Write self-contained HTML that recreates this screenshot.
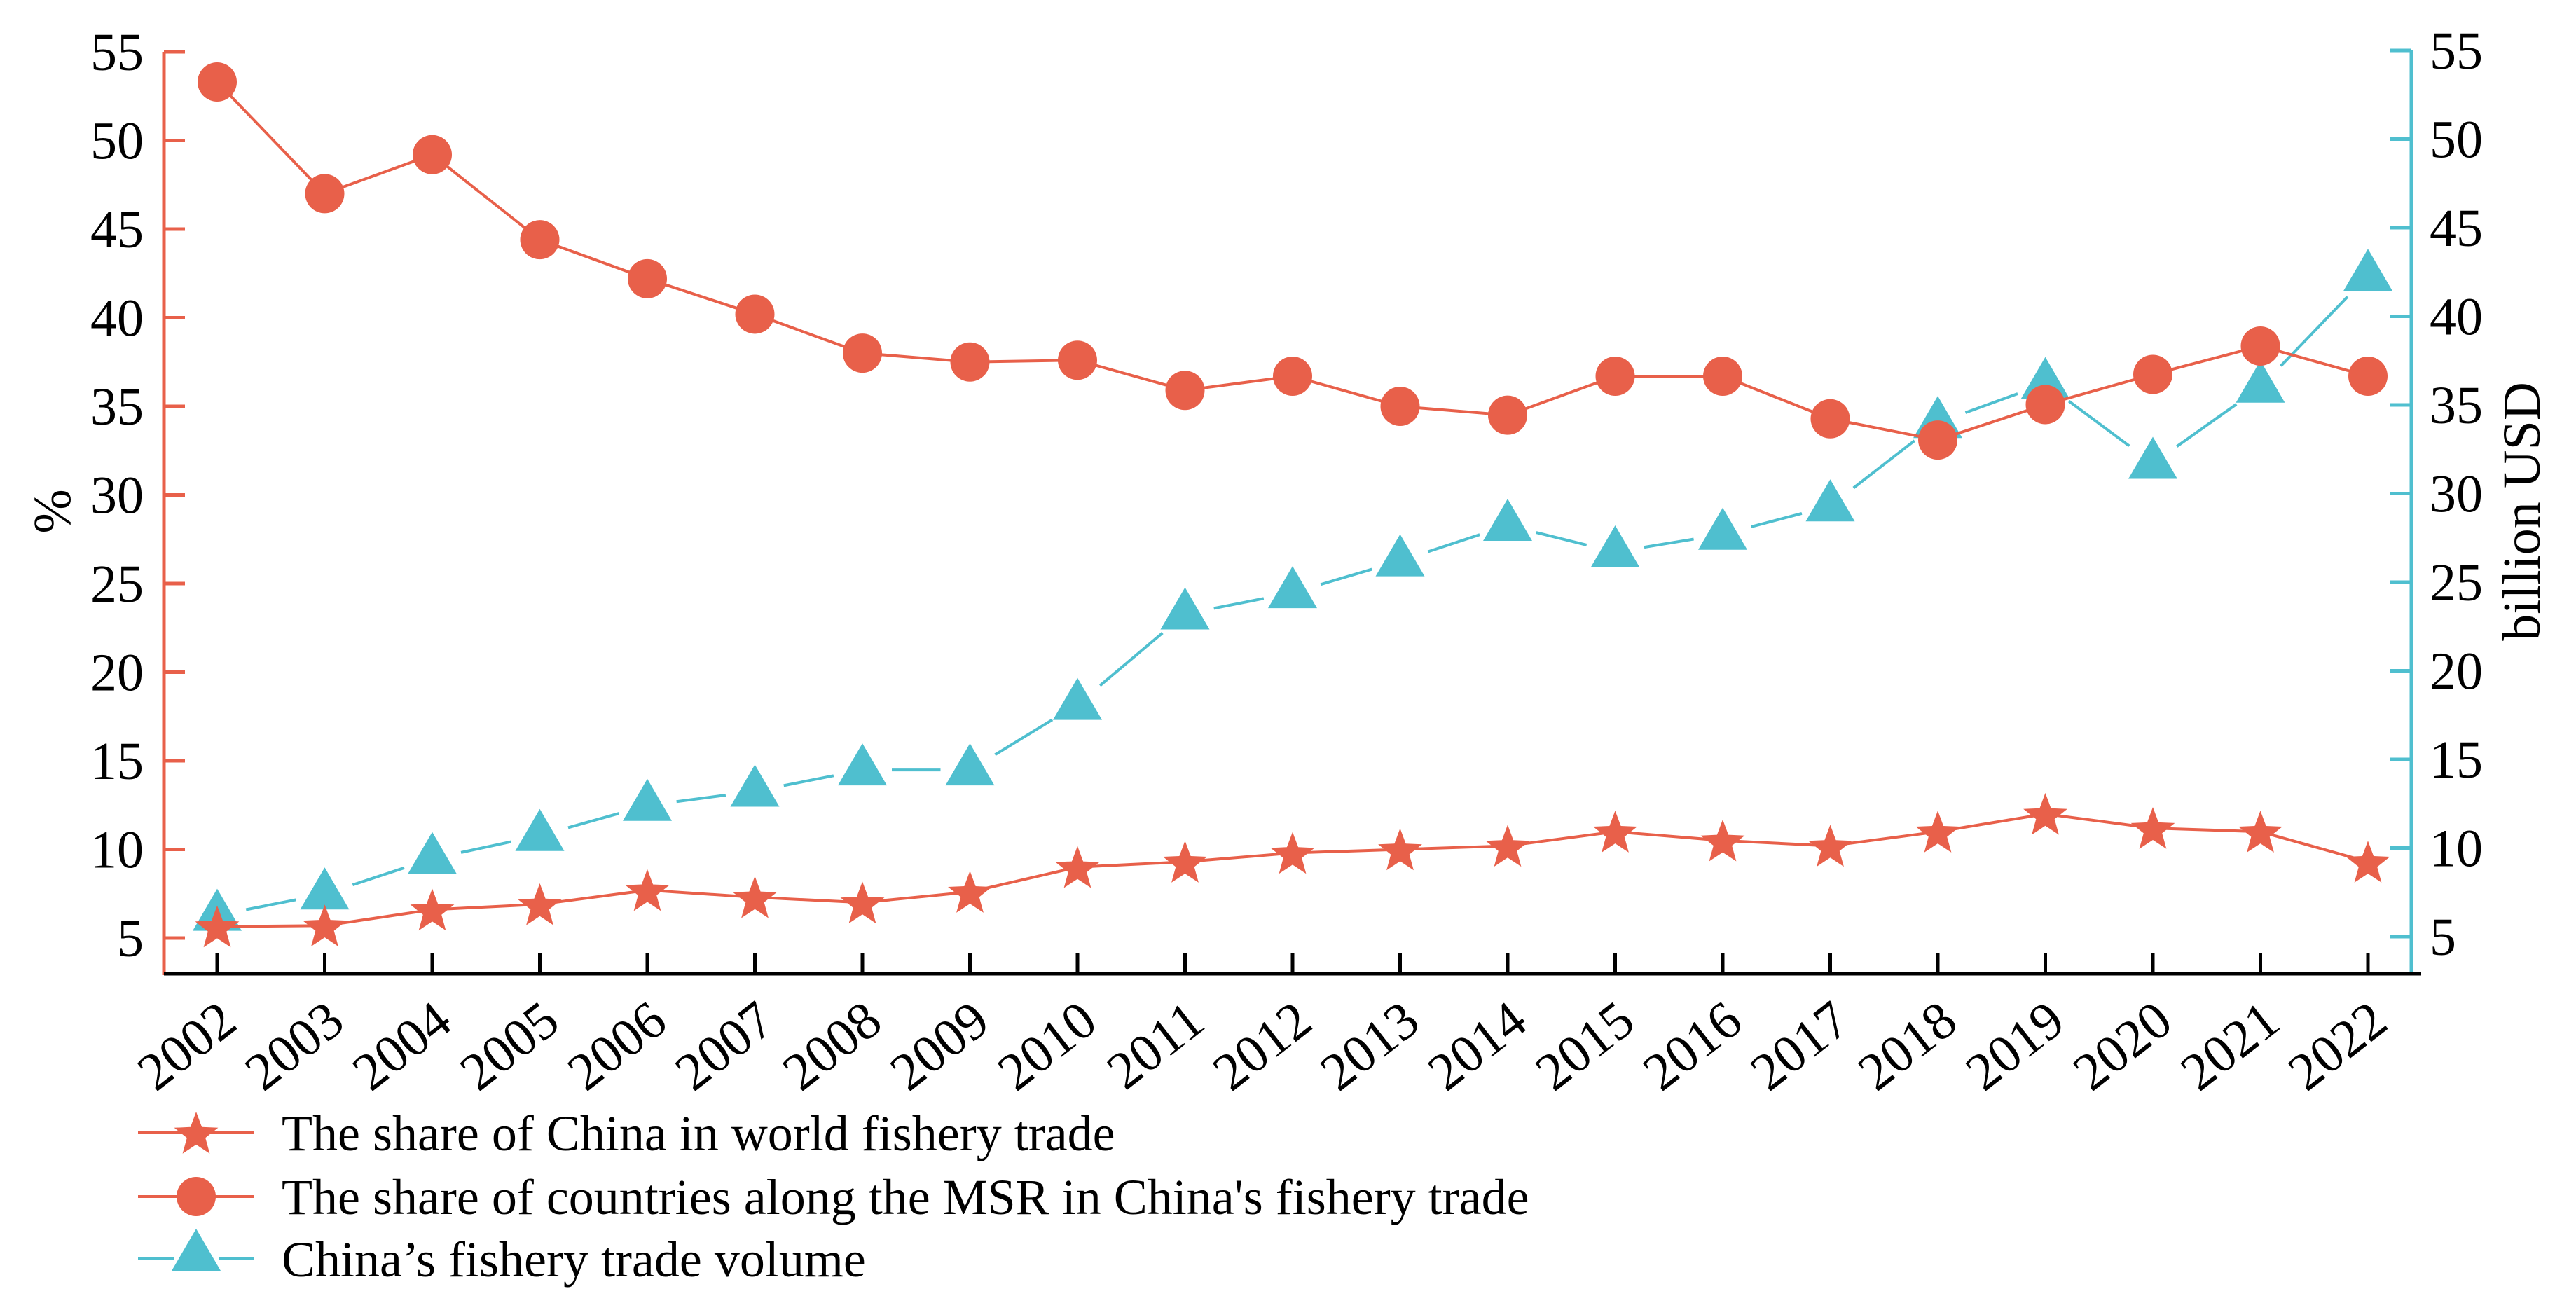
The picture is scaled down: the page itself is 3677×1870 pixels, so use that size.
<!DOCTYPE html>
<html><head><meta charset="utf-8">
<style>
html,body{margin:0;padding:0;background:#fff;}
svg{display:block;font-family:"Liberation Serif",serif;}
</style></head>
<body>
<svg id="chart" width="3677" height="1870" viewBox="0 0 3677 1870" xmlns="http://www.w3.org/2000/svg">
<g id="axes"></g>
<g id="series"></g>
<g id="legend"></g>
</svg>
<script>
const years = ["2002","2003","2004","2005","2006","2007","2008","2009","2010","2011","2012","2013","2014","2015","2016","2017","2018","2019","2020","2021","2022"];
const shareChinaWorld = [5.65,5.7,6.6,6.9,7.7,7.3,7.0,7.6,9.0,9.3,9.8,10.0,10.2,11.0,10.5,10.2,11.0,12.0,11.2,11.0,9.3];
const shareMSR = [53.3,47.0,49.2,44.4,42.2,40.2,38.0,37.5,37.6,35.9,36.7,35.0,34.5,36.7,36.7,34.3,33.1,35.1,36.8,38.4,36.7];
const tradeVolume = [6.2,7.4,9.4,10.7,12.4,13.2,14.4,14.4,18.1,23.2,24.4,26.2,28.2,26.7,27.7,29.3,34.0,36.2,31.7,36.0,42.3];
const yTicks = [5,10,15,20,25,30,35,40,45,50,55];
const legendLabels = ["The share of China in world fishery trade","The share of countries along the MSR in China's fishery trade","China\u2019s fishery trade volume"];

const RED = "#E8604A", TEAL = "#4FBFCF";
const NS = "http://www.w3.org/2000/svg";
const X0 = 310, DX = 153.5, LAX = 234, RAX = 3442, BOT = 1390;
function xPos(i){ return X0 + i*DX; }
function yL(v){ return 74 + (55 - v) * 25.3; }
function yR(v){ return 72 + (55 - v) * 25.3; }
function mk(parent, tag, attrs){ const e = document.createElementNS(NS, tag); for (const k in attrs) e.setAttribute(k, attrs[k]); parent.appendChild(e); return e; }
const axes = document.getElementById('axes'), series = document.getElementById('series'), legend = document.getElementById('legend');

let e;
e = mk(axes,'line',{x1:LAX,y1:74,x2:LAX,y2:BOT+2,stroke:RED,'stroke-width':5});
 
e = mk(axes,'line',{x1:RAX,y1:72,x2:RAX,y2:BOT+2,stroke:TEAL,'stroke-width':5});
 
e = mk(axes,'line',{x1:LAX,y1:BOT,x2:3456,y2:BOT,stroke:'#000','stroke-width':5});
 
yTicks.forEach(v=>{
  e = mk(axes,'line',{x1:LAX,y1:yL(v),x2:LAX+30,y2:yL(v),stroke:RED,'stroke-width':5});
   
  e = mk(axes,'text',{x:205,y:yL(v)+26,'text-anchor':'end','font-size':76,fill:'#000'}); e.textContent=v;
   
  e = mk(axes,'line',{x1:RAX-30,y1:yR(v),x2:RAX,y2:yR(v),stroke:TEAL,'stroke-width':5});
   
  e = mk(axes,'text',{x:3468,y:yR(v)+26,'text-anchor':'start','font-size':76,fill:'#000'}); e.textContent=v;
   
});
years.forEach((y,i)=>{
  const x = xPos(i);
  e = mk(axes,'line',{x1:x,y1:BOT,x2:x,y2:BOT-30,stroke:'#000','stroke-width':5});
   
  e = mk(axes,'text',{x:x+32,y:1466,'text-anchor':'end','font-size':76,fill:'#000',transform:`rotate(-38 ${x+32} 1466)`}); e.textContent=y;
   
});
e = mk(axes,'text',{x:100,y:730,'text-anchor':'middle','font-size':76,fill:'#000',transform:'rotate(-90 100 730)'}); e.textContent='%';
 
e = mk(axes,'text',{x:3625,y:730,'text-anchor':'middle','font-size':76,fill:'#000',transform:'rotate(-90 3625 730)'}); e.textContent='billion USD';
 

function star(g,cx,cy,r,color){
  let pts=[]; for(let k=0;k<10;k++){ const a=-Math.PI/2+k*Math.PI/5; const rr=k%2?r*0.42:r; pts.push((cx+rr*Math.cos(a)).toFixed(1)+','+(cy+rr*Math.sin(a)).toFixed(1)); }
  return mk(g,'polygon',{points:pts.join(' '),fill:color});
}
function tri(g,cx,cy,color){ return mk(g,'polygon',{points:`${cx},${cy-38} ${cx+35},${cy+22} ${cx-35},${cy+22}`,fill:color}); }

const gT = mk(series,'g',{});  
for(let i=0;i<years.length-1;i++){
  const x1=xPos(i),y1=yR(tradeVolume[i]),x2=xPos(i+1),y2=yR(tradeVolume[i+1]);
  const L=Math.hypot(x2-x1,y2-y1),g=42,ux=(x2-x1)/L,uy=(y2-y1)/L;
  e = mk(gT,'line',{x1:x1+ux*g,y1:y1+uy*g,x2:x2-ux*g,y2:y2-uy*g,stroke:TEAL,'stroke-width':4});
   
}
const gS = mk(series,'g',{});  
e = mk(gS,'polyline',{points:shareChinaWorld.map((v,i)=>xPos(i)+','+yL(v)).join(' '),fill:'none',stroke:RED,'stroke-width':4});
 
const gM = mk(series,'g',{});  
e = mk(gM,'polyline',{points:shareMSR.map((v,i)=>xPos(i)+','+yL(v)).join(' '),fill:'none',stroke:RED,'stroke-width':4});
 
shareChinaWorld.forEach((v,i)=>{ e=star(gS,xPos(i),yL(v)+3,33,RED);   });
shareMSR.forEach((v,i)=>{ e=mk(gM,'circle',{cx:xPos(i),cy:yL(v),r:28,fill:RED});   });
tradeVolume.forEach((v,i)=>{ e=tri(gT,xPos(i),yR(v),TEAL);   });

const rows=[1617,1708,1797];
legendLabels.forEach((t,k)=>{
  const g = mk(legend,'g',{});  
  const col = k===2?TEAL:RED;
  if(k===2){
    e=mk(g,'line',{x1:197,y1:rows[k],x2:248,y2:rows[k],stroke:col,'stroke-width':4});  
    e=mk(g,'line',{x1:312,y1:rows[k],x2:363,y2:rows[k],stroke:col,'stroke-width':4});  
    e=tri(g,280,rows[k]-5,col);  
  } else {
    e=mk(g,'line',{x1:197,y1:rows[k],x2:363,y2:rows[k],stroke:col,'stroke-width':4});  
    if(k===0){ e=star(g,280,rows[k]+3,33,col); } else { e=mk(g,'circle',{cx:280,cy:rows[k],r:28,fill:col}); }
     
  }
  e=mk(g,'text',{x:402,y:rows[k]+25,'font-size':72,fill:'#000'}); e.textContent=t;
   
});
</script>
</body></html>
